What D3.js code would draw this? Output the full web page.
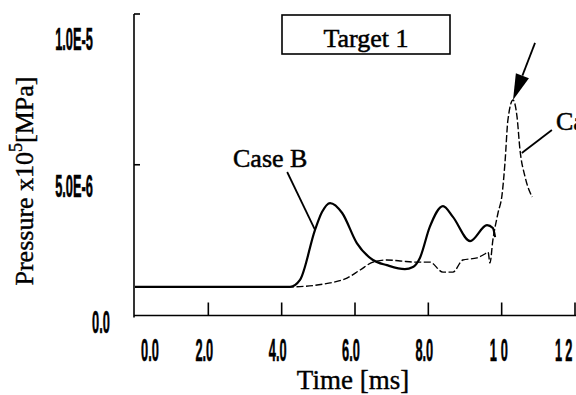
<!DOCTYPE html>
<html>
<head>
<meta charset="utf-8">
<script src="https://cdn.jsdelivr.net/npm/d3@7"></script>
<style>
  html, body { margin: 0; padding: 0; background: #fff; }
  svg { display: block; }
</style>
</head>
<body>
<div id="chart"></div>
<script>
// ---------- data (pressure in units of 1e-6, time in ms) ----------
const caseBTime  = [0, 4.23, 4.5, 4.91, 5.1, 5.32, 5.65, 6.05, 6.49, 6.87, 7.36, 7.58, 7.77, 8.04, 8.4, 8.67, 9.14, 9.6, 9.76, 9.82];
const caseBPress = [0.95, 0.95, 1.18, 2.84, 3.43, 3.73, 3.4, 2.4, 1.84, 1.67, 1.54, 1.61, 1.91, 2.94, 3.63, 3.27, 2.47, 3.0, 2.9, 2.6];

const caseCTime  = [0, 4.23, 5.32, 5.78, 6.14, 6.49, 6.87, 7.23, 7.69, 8.04, 8.4, 8.67, 8.94, 9.33, 9.54, 9.63, 9.68, 9.76, 9.9, 10.01, 10.09, 10.17, 10.31, 10.42, 10.5, 10.64, 10.83];
const caseCPress = [0.95, 0.95, 1.08, 1.24, 1.51, 1.77, 1.84, 1.81, 1.77, 1.77, 1.44, 1.44, 1.84, 1.91, 2.04, 2.1, 1.74, 2.5, 3.4, 4.0, 5.06, 6.48, 7.15, 6.58, 5.49, 4.59, 3.93];

const xTicks = [0, 2, 4, 6, 8, 10, 12];
const xTickLabels = ["0.0", "2.0", "4.0", "6.0", "8.0", "10", "12"];
const yTicks = [0, 5, 10];
const yTickLabels = ["0.0", "5.0E-6", "1.0E-5"];

const title = "Target 1";
const labelB = "Case B";
const labelC = "Case C";

// ---------- layout ----------
const W = 576, H = 395;
const x = d3.scaleLinear().domain([0, 12]).range([135, 575]);
const y = d3.scaleLinear().domain([0, 10]).range([315.5, 14]);

const svg = d3.select("#chart").append("svg")
  .attr("width", W).attr("height", H)
  .attr("viewBox", `0 0 ${W} ${H}`);

const serif = "'Liberation Serif', 'Times New Roman', serif";
const tickFont = "'Liberation Sans', Arial, sans-serif";

// axes lines
const axisG = svg.append("g").attr("stroke", "#000").attr("fill", "none");
axisG.append("line")
  .attr("x1", x(0) - 1).attr("x2", x(0) - 1)
  .attr("y1", y(10)).attr("y2", y(0) + 2)
  .attr("stroke-width", 1.6);
axisG.append("line")
  .attr("x1", x(0) - 1).attr("x2", W)
  .attr("y1", y(0)).attr("y2", y(0))
  .attr("stroke-width", 1.6);

// y ticks (inward, to the right)
axisG.selectAll(".yt").data(yTicks.filter(d => d > 0)).enter().append("line")
  .attr("x1", x(0) - 1).attr("x2", x(0) + 5)
  .attr("y1", d => y(d)).attr("y2", d => y(d))
  .attr("stroke-width", 1.6);

// x ticks (upward)
axisG.selectAll(".xt").data(xTicks.filter(d => d > 0)).enter().append("line")
  .attr("x1", d => x(d)).attr("x2", d => x(d))
  .attr("y1", y(0)).attr("y2", y(0) - 13)
  .attr("stroke-width", 1.6);

// tick labels: tall, narrow, bold
function tallText(g, tx, ty, str, anchor, spacing) {
  const t = g.append("text")
    .attr("transform", `translate(${tx},${ty}) scale(0.8,1.95)`)
    .attr("text-anchor", anchor)
    .attr("font-family", tickFont)
    .attr("font-weight", "bold")
    .attr("font-size", 16)
    .attr("fill", "#000")
    .attr("stroke", "#000").attr("stroke-width", 0.3)
    .text(str);
  if (spacing) t.attr("letter-spacing", spacing);
  return t;
}

const xl = svg.append("g");
xTicks.forEach((d, i) => {
  if (xTickLabels[i].length === 2) {
    const last = i === xTicks.length - 1;
    tallText(xl, x(d) - (last ? 20 : 12), 361, xTickLabels[i], "start", last ? 4 : 5);
  } else {
    const dx = i === 0 ? 15 : -4;
    tallText(xl, x(d) + dx, 361, xTickLabels[i], "middle");
  }
});

const yl = svg.append("g");
const yLabelPos = { 0: [101, y(0) + 17.5], 5: [74, y(5) + 32], 10: [74, y(10) + 36] };
yTicks.forEach((d, i) => {
  const p = yLabelPos[d];
  tallText(yl, p[0], p[1], yTickLabels[i], "middle");
});

// axis titles
svg.append("text")
  .attr("x", 353).attr("y", 389)
  .attr("text-anchor", "middle")
  .attr("font-family", serif).attr("font-size", 27)
  .attr("stroke", "#000").attr("stroke-width", 0.4)
  .text("Time [ms]");

const yt = svg.append("text")
  .attr("transform", "translate(33,181) rotate(-90)")
  .attr("text-anchor", "middle")
  .attr("font-family", serif).attr("font-size", 26)
  .attr("stroke", "#000").attr("stroke-width", 0.4);
yt.append("tspan").text("Pressure  x10");
yt.append("tspan").attr("dy", -11).attr("font-size", 18).text("5");
yt.append("tspan").attr("dy", 11).text("[MPa]");

// curves
const line = d3.line()
  .x(d => x(d[0])).y(d => y(d[1]))
  .curve(d3.curveMonotoneX);

const dataB = caseBTime.map((t, i) => [t, caseBPress[i]]);
const dataC = caseCTime.map((t, i) => [t, caseCPress[i]]);

svg.append("path").datum(dataC)
  .attr("d", line)
  .attr("fill", "none").attr("stroke", "#000")
  .attr("stroke-width", 1.4)
  .attr("stroke-dasharray", "7,2.5");

svg.append("path").datum(dataB)
  .attr("d", line)
  .attr("fill", "none").attr("stroke", "#000")
  .attr("stroke-width", 2.2)
  .attr("stroke-linejoin", "round");

// title box
svg.append("rect")
  .attr("x", 282).attr("y", 15).attr("width", 168).attr("height", 39)
  .attr("fill", "none").attr("stroke", "#000").attr("stroke-width", 1.6);
svg.append("text")
  .attr("x", 366).attr("y", 47)
  .attr("text-anchor", "middle")
  .attr("font-family", serif).attr("font-size", 26)
  .attr("stroke", "#000").attr("stroke-width", 0.5)
  .text(title);

// Case B label + leader
svg.append("text")
  .attr("x", 233).attr("y", 167)
  .attr("font-family", serif).attr("font-size", 26)
  .attr("stroke", "#000").attr("stroke-width", 0.5)
  .text(labelB);
svg.append("line")
  .attr("x1", x(4.15)).attr("y1", y(4.76))
  .attr("x2", x(4.91)).attr("y2", y(2.84))
  .attr("stroke", "#000").attr("stroke-width", 1.8);

// Case C label + leader (label runs off the right edge, as in the original)
svg.append("text")
  .attr("x", 556).attr("y", 130)
  .attr("font-family", serif).attr("font-size", 26)
  .attr("stroke", "#000").attr("stroke-width", 0.5)
  .text(labelC);
svg.append("line")
  .attr("x1", x(11.37)).attr("y1", y(6.15))
  .attr("x2", x(10.55)).attr("y2", y(5.39))
  .attr("stroke", "#000").attr("stroke-width", 1.8);

// arrow pointing to peak of Case C
const peakIdx = d3.maxIndex(caseCPress);
const tip = [x(caseCTime[peakIdx]), y(caseCPress[peakIdx])];
const start = [x(10.91), y(9.04)];
const ang = Math.atan2(tip[1] - start[1], tip[0] - start[0]);
const headLen = 26, headW = 7;
const base = [tip[0] - headLen * Math.cos(ang), tip[1] - headLen * Math.sin(ang)];
svg.append("line")
  .attr("x1", start[0]).attr("y1", start[1])
  .attr("x2", base[0]).attr("y2", base[1])
  .attr("stroke", "#000").attr("stroke-width", 1.8);
const px = -Math.sin(ang), py = Math.cos(ang);
svg.append("path")
  .attr("d", `M${tip[0]},${tip[1]} L${base[0] + headW * px},${base[1] + headW * py} L${base[0] - headW * px},${base[1] - headW * py} Z`)
  .attr("fill", "#000");
</script>
</body>
</html>
